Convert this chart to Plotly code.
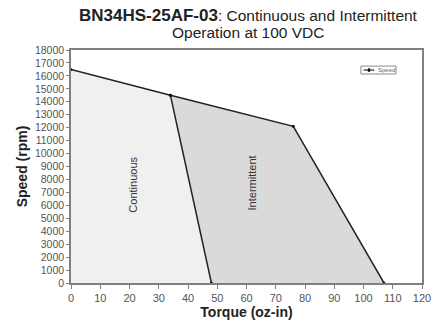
import plotly.graph_objects as go

# Data
speed_torque = [0, 34, 76, 107]
speed_rpm = [16500, 14500, 12100, 0]
cont_torque = [34, 48]
cont_rpm = [14500, 0]

x_ticks = list(range(0, 121, 10))
y_ticks = list(range(0, 18001, 1000))

fig = go.Figure()

# Continuous region fill
fig.add_trace(go.Scatter(
    x=[0, 0, speed_torque[1], cont_torque[1], 0],
    y=[0, speed_rpm[0], speed_rpm[1], cont_rpm[1], 0],
    fill="toself", fillcolor="#f0f0f0", line=dict(width=0),
    mode="lines", showlegend=False, hoverinfo="skip"))

# Intermittent region fill
fig.add_trace(go.Scatter(
    x=[speed_torque[1], speed_torque[2], speed_torque[3], cont_torque[1], speed_torque[1]],
    y=[speed_rpm[1], speed_rpm[2], speed_rpm[3], cont_rpm[1], speed_rpm[1]],
    fill="toself", fillcolor="#dadada", line=dict(width=0),
    mode="lines", showlegend=False, hoverinfo="skip"))

# Continuous boundary
fig.add_trace(go.Scatter(
    x=cont_torque, y=cont_rpm, mode="lines+markers",
    line=dict(color="#222222", width=1.5),
    marker=dict(size=3, color="#111111"), showlegend=False))

# Speed curve
fig.add_trace(go.Scatter(
    x=speed_torque, y=speed_rpm, mode="lines+markers", name="Speed",
    line=dict(color="#222222", width=1.5),
    marker=dict(size=3, color="#111111"), showlegend=False))

fig.add_annotation(x=21.2, y=7600, text="Continuous", textangle=-90,
                   showarrow=False, font=dict(size=11, color="#333333"))
fig.add_annotation(x=61.8, y=7750, text="Intermittent", textangle=-90,
                   showarrow=False, font=dict(size=11, color="#333333"))

# Title (two lines)
fig.add_annotation(xref="paper", yref="paper", x=0.505, y=1.150,
                   text="<b><span style='font-size:17px'>BN34HS-25AF-03</span></b>: Continuous and Intermittent",
                   showarrow=False, xanchor="center", yanchor="middle",
                   font=dict(size=15.5, color="#222222"))
fig.add_annotation(xref="paper", yref="paper", x=0.505, y=1.073,
                   text="Operation at 100 VDC",
                   showarrow=False, xanchor="center", yanchor="middle",
                   font=dict(size=15.5, color="#222222"))

# Small legend
fig.add_shape(type="rect", xref="paper", yref="paper",
              x0=0.826, x1=0.926, y0=0.897, y1=0.931,
              line=dict(color="#888888", width=1), fillcolor="white")
fig.add_shape(type="line", xref="paper", yref="paper",
              x0=0.834, x1=0.864, y0=0.914, y1=0.914,
              line=dict(color="#222222", width=1.2))
fig.add_shape(type="circle", xref="paper", yref="paper",
              x0=0.846, x1=0.852, y0=0.906, y1=0.922,
              line=dict(color="#111111", width=0.5), fillcolor="#111111")
fig.add_annotation(xref="paper", yref="paper", x=0.868, y=0.914,
                   text="Speed", showarrow=False, xanchor="left", yanchor="middle",
                   font=dict(size=6, color="#666666"))

fig.update_layout(
    width=443, height=321,
    margin=dict(l=71, r=21, t=50, b=38),
    paper_bgcolor="white", plot_bgcolor="white",
    font=dict(family="Arial, Liberation Sans, sans-serif", color="#333333"),
    showlegend=False,
    xaxis=dict(range=[0, 120], tickvals=x_ticks, showgrid=False, zeroline=False,
               showline=True, linecolor="#808080", linewidth=1.5, mirror=True,
               ticks="outside", ticklen=4, tickcolor="#808080", automargin=False,
               tickfont=dict(size=11, color="#555555"),
               title=dict(text="<b>Torque (oz-in)</b>", font=dict(size=14, color="#222222"), standoff=4)),
    yaxis=dict(range=[0, 18000], tickvals=y_ticks, tickformat="d",
               showgrid=False, zeroline=False, automargin=False,
               showline=True, linecolor="#808080", linewidth=1.5, mirror=True,
               ticks="outside", ticklen=3, tickcolor="#808080",
               tickfont=dict(size=10.5, color="#555555"),
               title=dict(text="<b>Speed (rpm)</b>", font=dict(size=14, color="#222222"), standoff=4)),
)

fig.write_html("out.html")
